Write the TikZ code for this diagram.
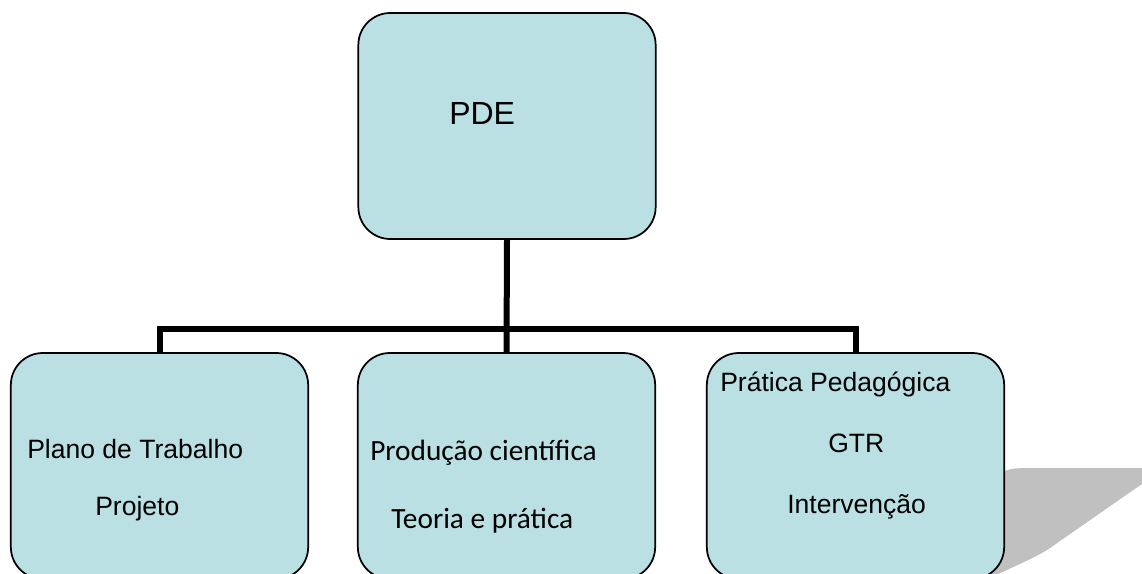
\documentclass[tikz,border=0pt]{standalone}
\usepackage{fontspec}
\setmainfont{Liberation Sans}
\newfontfamily\calfont{Carlito}
\usetikzlibrary{positioning}

\definecolor{cardfill}{RGB}{186,224,227}
\definecolor{shadowgray}{RGB}{192,192,192}

\begin{document}
\begin{tikzpicture}[x=0.75pt, y=-0.75pt,
  card/.style={draw, line width=1.3pt, rounded corners=24pt,
    fill=cardfill, minimum width=223pt, minimum height=169.5pt},
  link/.style={line width=4.5pt, line join=miter, black},
  lbl/.style={anchor=base west, inner sep=0pt,
    font=\fontsize{19.9}{23}\selectfont},
  cal/.style={anchor=base west, inner sep=0pt,
    font=\calfont\fontsize{22}{26}\selectfont}
]
\useasboundingbox (0,0) rectangle (1142,574);
\clip (0,0) rectangle (1142,574);

% shadow behind the right card
\fill[shadowgray] (990,478) .. controls (1010,468) .. (1035,468)
  -- (1165,468) -- (1060,541) .. controls (1042,554) .. (985,580) -- cycle;

\node[card] (pde) at (507,126) {};
\node[font=\fontsize{24}{28}\selectfont, anchor=base west, inner sep=0pt]
  (pdetxt) at (449,125) {PDE};

\foreach \n/\x in {plano/159.5, producao/506.5, pratica/855.5} {
  \node[card] (\n) at (\x,466) {};
}

\node[lbl] (plano1) at (27,458) {Plano de Trabalho};
\node[lbl] (plano2) at (95,515) {Projeto};
\node[cal] (prod1) at (370,460) {Produção científica};
\node[cal] (prod2) at (391,528) {Teoria e prática};
\node[lbl] (prat1) at (720,391) {Prática Pedagógica};
\node[lbl] (prat2) at (828,452) {GTR};
\node[lbl] (prat3) at (787,513) {Intervenção};

% connectors
\coordinate (bar) at (507,329);
\draw[link] (pde.south) -- (producao.north);
\draw[link] (plano.north) |- (bar) -| (pratica.north);

\end{tikzpicture}
\end{document}
